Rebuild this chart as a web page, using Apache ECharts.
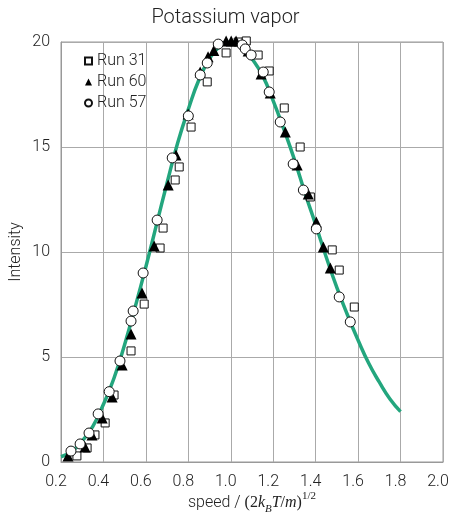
<!DOCTYPE html>
<html>
<head>
<meta charset="utf-8">
<script src="https://cdn.jsdelivr.net/npm/echarts@6/dist/echarts.min.js"></script>
<style>
  html, body { margin: 0; padding: 0; background: #fff; }
  #main { width: 451px; height: 512px; }
</style>
</head>
<body>
<div id="main"></div>
<script>
// fitted curve
var curveX = [0.2, 0.25, 0.3, 0.35, 0.4, 0.45, 0.5, 0.55, 0.6, 0.65, 0.7, 0.75, 0.8, 0.85, 0.9, 0.95, 1.0,
              1.05, 1.1, 1.15, 1.2, 1.25, 1.3, 1.35, 1.4, 1.45, 1.5, 1.55, 1.6, 1.65, 1.7, 1.75, 1.8];
var curveY = [0.25, 0.5, 1.0, 1.7, 2.75, 4.0, 5.6, 7.4, 9.3, 11.3, 13.3, 15.2, 16.8, 18.2, 19.2, 19.8, 20.0,
              19.8, 19.2, 18.4, 17.2, 15.85, 14.4, 12.8, 11.3, 9.75, 8.3, 7.0, 5.8, 4.7, 3.8, 3.0, 2.4];

// measured points [speed, intensity]
var run31 = [[0.275,0.29],[0.323,0.67],[0.360,1.29],[0.408,1.86],[0.450,3.19],[0.530,5.29],[0.592,7.52],
  [0.667,10.19],[0.681,11.14],[0.738,13.43],[0.757,14.05],[0.813,15.95],[0.889,18.1],[0.978,19.48],
  [1.035,20.0],[1.073,20.05],[1.129,19.38],[1.181,18.62],[1.252,16.86],[1.327,15.0],[1.375,12.62],
  [1.478,10.1],[1.511,9.14],[1.582,7.38]];
var run60 = [[0.233,0.29],[0.313,0.71],[0.346,1.29],[0.394,2.1],[0.441,3.1],[0.488,4.62],[0.530,6.10],
  [0.582,8.05],[0.639,10.29],[0.705,13.19],[0.742,14.62],[0.799,16.57],[0.856,18.57],[0.893,19.3],
  [0.920,19.6],[0.978,20.05],[1.002,20.05],[1.025,20.05],[1.082,19.57],[1.143,18.48],[1.186,17.57],
  [1.257,15.71],[1.313,14.14],[1.365,12.76],[1.403,11.43],[1.436,10.24],[1.469,9.24]];
var run57 = [[0.247,0.52],[0.290,0.86],[0.332,1.38],[0.375,2.29],[0.427,3.35],[0.478,4.81],[0.530,6.71],
  [0.540,7.19],[0.587,9.0],[0.653,11.52],[0.724,14.48],[0.800,16.48],[0.856,18.43],[0.889,19.0],
  [0.941,19.9],[1.054,19.86],[1.068,19.67],[1.096,19.38],[1.153,18.57],[1.181,17.62],[1.233,16.19],
  [1.294,14.19],[1.342,12.95],[1.403,11.1],[1.511,7.86],[1.563,6.67]];

var legendNames = ['Run 31', 'Run 60', 'Run 57'];

var curve = [];
for (var i = 0; i < curveX.length; i++) {
  curve.push([curveX[i], curveY[i]]);
}

var font = 'Roboto, "Liberation Sans", sans-serif';
var serif = '"Liberation Serif", "DejaVu Serif", serif';

var myChart = echarts.init(document.getElementById('main'));
var option = {
  animation: false,
  title: {
    text: 'Potassium vapor',
    left: 'center',
    top: 3,
    textStyle: { fontFamily: font, fontWeight: 300, fontSize: 20, color: '#222' }
  },
  legend: {
    data: legendNames,
    orient: 'vertical',
    left: 79,
    top: 48,
    itemGap: 5,
    itemWidth: 7,
    itemHeight: 7,
    textStyle: { fontFamily: font, fontWeight: 300, fontSize: 16, color: '#222' }
  },
  grid: {
    left: 61,
    right: 8,
    top: 42,
    bottom: 50,
    outerBoundsMode: 'none',
    containLabel: false,
    show: true,
    borderColor: '#999',
    borderWidth: 1
  },
  xAxis: {
    type: 'value',
    min: 0.2,
    max: 2.0,
    interval: 0.2,
    name: '{a|speed / }{r|(2}{i|k}{sub|B}{i|T}{r|/}{i|m}{r|)}{sup|1/2}',
    nameLocation: 'middle',
    nameGap: 29,
    nameMoveOverlap: false,
    nameTextStyle: {
      rich: {
        a: { fontFamily: font, fontWeight: 300, fontSize: 16, color: '#222', lineHeight: 24 },
        r: { fontFamily: serif, fontSize: 16, color: '#222', lineHeight: 24 },
        i: { fontFamily: serif, fontStyle: 'italic', fontSize: 16, color: '#222', lineHeight: 24 },
        sub: { fontFamily: serif, fontStyle: 'italic', fontSize: 11, color: '#222', verticalAlign: 'bottom', lineHeight: 24, padding: [6, 0, 0, 0] },
        sup: { fontFamily: serif, fontSize: 11, color: '#222', verticalAlign: 'top', lineHeight: 24, padding: [0, 0, 8, 0] }
      }
    },
    axisLine: { show: true, lineStyle: { color: '#999', width: 1 } },
    axisTick: { show: false },
    axisLabel: {
      margin: 12,
      padding: [0, 10, 0, 0],
      fontFamily: font, fontWeight: 300, fontSize: 16, color: '#222',
      formatter: function (v) { return v.toFixed(1); }
    },
    splitLine: { show: true, lineStyle: { color: '#aaa', width: 1 } }
  },
  yAxis: {
    type: 'value',
    min: 0,
    max: 20,
    interval: 5,
    name: 'Intensity',
    nameLocation: 'middle',
    nameGap: 37,
    nameMoveOverlap: false,
    nameTextStyle: { fontFamily: font, fontWeight: 300, fontSize: 16, color: '#222' },
    axisLine: { show: true, lineStyle: { color: '#999', width: 1 } },
    axisTick: { show: false },
    axisLabel: { margin: 11, fontFamily: font, fontWeight: 300, fontSize: 16, color: '#222' },
    splitLine: { show: true, lineStyle: { color: '#aaa', width: 1 } }
  },
  series: [
    {
      name: 'fit',
      type: 'line',
      data: curve,
      smooth: true,
      symbol: 'none',
      silent: true,
      lineStyle: { color: '#23a67e', width: 3.5 },
      z: 1
    },
    {
      name: 'Run 31',
      type: 'scatter',
      data: run31,
      clip: false,
      symbol: 'rect',
      symbolSize: 8,
      itemStyle: { color: '#fff', borderColor: '#111', borderWidth: 1, opacity: 1 },
      z: 2
    },
    {
      name: 'Run 60',
      type: 'scatter',
      data: run60,
      clip: false,
      symbol: 'triangle',
      symbolSize: 11,
      itemStyle: { color: '#000', borderColor: '#000', borderWidth: 0, opacity: 1 },
      z: 3
    },
    {
      name: 'Run 57',
      type: 'scatter',
      data: run57,
      clip: false,
      symbol: 'circle',
      symbolSize: 10,
      itemStyle: { color: '#fff', borderColor: '#111', borderWidth: 1, opacity: 1 },
      z: 4
    }
  ]
};
myChart.setOption(option);
</script>
</body>
</html>
